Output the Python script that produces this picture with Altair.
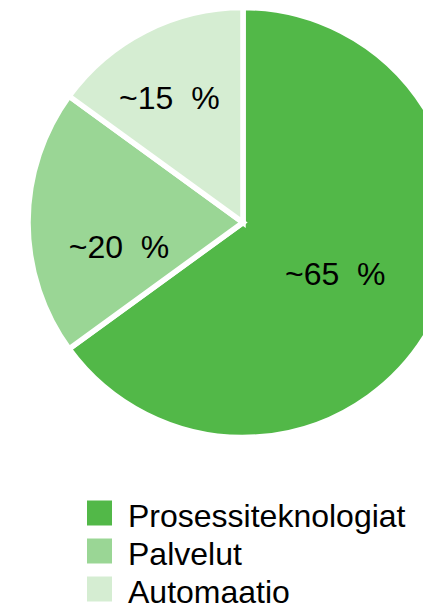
import altair as alt
import pandas as pd

categories = ["Prosessiteknologiat", "Palvelut", "Automaatio"]
shares = [65, 20, 15]
labels = ["~65 \u00a0%", "~20 \u00a0%", "~15 \u00a0%"]
colors = ["#52B848", "#9AD695", "#D5EDD2"]

df = pd.DataFrame({
    "category": categories,
    "share": shares,
    "label": labels,
    "ord": list(range(len(categories))),
})

FONT = "Liberation Sans"
CX, CY = 235, 214.5

base = alt.Chart(df)
color_scale = alt.Scale(domain=categories, range=colors)

arcs = base.mark_arc(outerRadius=215, stroke="white", strokeWidth=5.5).encode(
    theta=alt.Theta("share:Q", stack=True),
    order=alt.Order("ord:Q", sort="ascending"),
    color=alt.Color("category:N", scale=color_scale, legend=None),
    x=alt.value(CX),
    y=alt.value(CY),
)

# label placement tweaks (angle offset in degrees, radius in px)
adj_expr = "datum.category == 'Prosessiteknologiat' ? 1.5 : (datum.category == 'Palvelut' ? -10.3 : -3.3)"
rad_expr = "datum.category == 'Prosessiteknologiat' ? 105 : (datum.category == 'Palvelut' ? 126 : 146)"

texts = base.transform_window(
    cum="sum(share)", sort=[alt.SortField("ord", order="ascending")]
).transform_joinaggregate(
    total="sum(share)"
).transform_calculate(
    lt="(datum.cum - datum.share / 2) / datum.total * 2 * PI + (" + adj_expr + ") * PI / 180",
    lr=rad_expr,
).mark_text(font=FONT, fontSize=32, color="black", align="center", baseline="middle").encode(
    theta=alt.Theta("lt:Q", scale=None),
    radius=alt.Radius("lr:Q", scale=None),
    text="label:N",
    x=alt.value(CX),
    y=alt.value(CY + 2.5),
)

# manual legend
leg_y = alt.Y("category:N", scale=alt.Scale(type="point", domain=categories, range=[505, 581], padding=0), axis=None)

leg_sq = base.mark_square(size=625, opacity=1).encode(
    x=alt.value(91.5),
    y=leg_y,
    color=alt.Color("category:N", scale=color_scale, legend=None),
)

leg_txt = base.mark_text(font=FONT, fontSize=32, color="black", align="left", baseline="alphabetic", dy=13.5).encode(
    x=alt.value(120),
    y=leg_y,
    text="category:N",
)

chart = alt.layer(arcs, texts, leg_sq, leg_txt).properties(
    width=415, height=595, autosize=alt.AutoSizeParams(type="none"), padding=0
).configure_view(stroke=None)

chart.save("out.html", embed_options={"renderer": "svg", "actions": False})
